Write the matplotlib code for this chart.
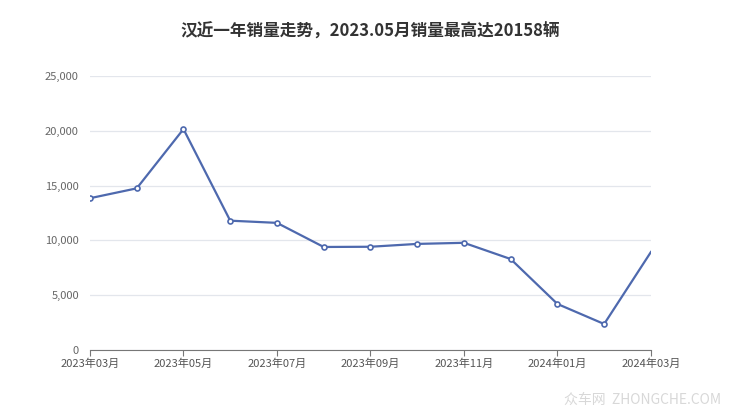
import matplotlib.pyplot as plt

plt.rcParams['font.family'] = ['Noto Sans CJK SC', 'DejaVu Sans']

months = ['2023年03月', '2023年04月', '2023年05月', '2023年06月', '2023年07月',
          '2023年08月', '2023年09月', '2023年10月', '2023年11月', '2023年12月',
          '2024年01月', '2024年02月', '2024年03月']
sales = [13850, 14750, 20158, 11800, 11600, 9400, 9420, 9680, 9780, 8300,
         4200, 2370, 8940]
yticks = [0, 5000, 10000, 15000, 20000, 25000]

fig = plt.figure(figsize=(7.4, 4.17), dpi=100)
ax = fig.add_axes([0.1216, 0.1607, 0.758, 0.657])

x = list(range(len(months)))
ax.plot(x, sales, color='#4e69ae', linewidth=1.6, zorder=3)
ax.plot(x[:-1], sales[:-1], linestyle='none', marker='o', markersize=3.6,
        markerfacecolor='white', markeredgecolor='#4e69ae', markeredgewidth=1.2, zorder=4)

ax.set_xlim(0, len(months) - 1)
ax.set_ylim(0, 25000)
ax.set_yticks(yticks)
ax.set_yticklabels([f'{v:,}' for v in yticks])
ax.set_xticks(x[::2])
ax.set_xticklabels(months[::2])
ax.set_xticks(x, minor=True)

ax.grid(axis='y', color='#e3e6ec', linewidth=0.9)
ax.set_axisbelow(True)
for s in ['top', 'right', 'left']:
    ax.spines[s].set_visible(False)
ax.spines['bottom'].set_color('#777777')
ax.tick_params(axis='y', length=0, labelsize=8, labelcolor='#666666', pad=8)
ax.tick_params(axis='x', which='both', length=4, color='#777777', labelsize=8,
               labelcolor='#555555', pad=2)
ax.tick_params(axis='x', which='minor', length=0)

fig.text(0.5, 0.925, '汉近一年销量走势，2023.05月销量最高达20158辆', ha='center', va='center',
         fontsize=12, fontweight='bold', color='#333333')
fig.text(0.975, 0.04, '众车网  ZHONGCHE.COM', ha='right', va='center', fontsize=10,
         color='#d8d8d8')

fig.savefig('out.png', dpi=100)
